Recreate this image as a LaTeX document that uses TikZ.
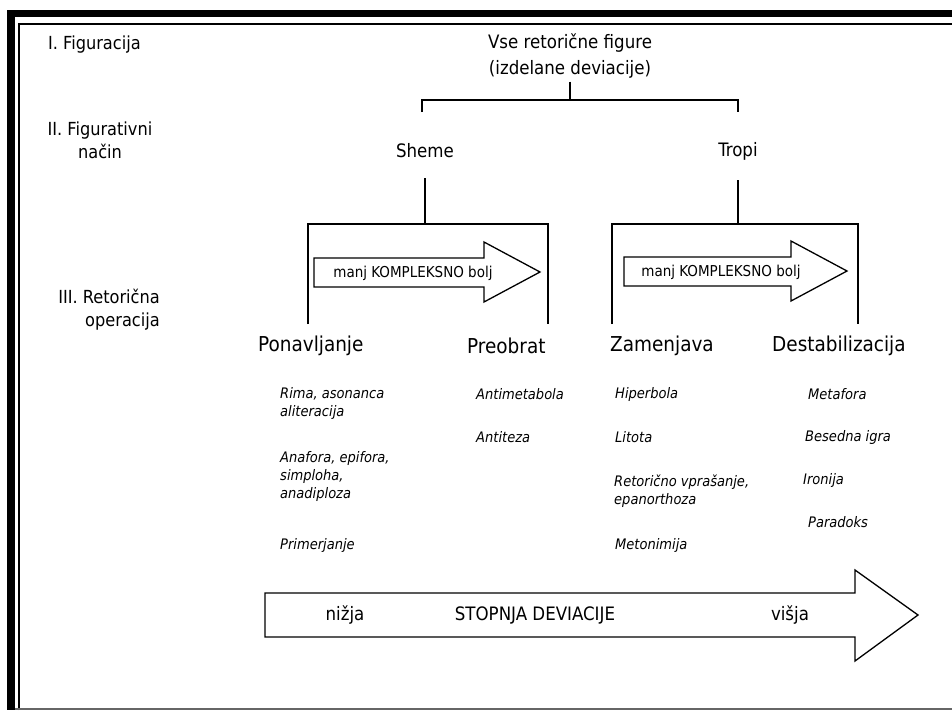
\documentclass[tikz,border=0pt]{standalone}
\usepackage{fontspec}
\setmainfont{DejaVu Sans Condensed}
\usetikzlibrary{calc}
\tikzset{
  lvl/.style={font=\fontsize{18}{23}\selectfont, inner sep=0pt},
  main/.style={font=\fontsize{18.5}{26}\selectfont, inner sep=0pt},
  oper/.style={font=\fontsize{20.5}{24}\selectfont, inner sep=0pt, anchor=west},
  item/.style={font=\fontsize{14.5}{18}\selectfont\itshape, inner sep=0pt, anchor=west, align=left},
  arr/.style={font=\fontsize{15}{18}\selectfont, inner sep=0pt},
  tree/.style={line width=1.4pt},
  bigarrow/.style={line width=1.3pt, line join=miter}
}
\begin{document}
\begin{tikzpicture}[x=1pt,y=-1pt]
			\useasboundingbox (0,0) rectangle (952,710);
			
			%%%%% FRAME %%%%%
			\fill[black] (7,10) rectangle (952,17);
			\fill[black] (7,10) rectangle (15,710);
			\draw[line width=1.2pt] (19,710) -- (19,24) -- (952,24);
			\draw[line width=1.5pt, color=black!60] (15,709) -- (952,709);
			
			%%%%% LEVELS %%%%%
			\node[lvl, anchor=west] (figuracija) at (48,45) {I. Figuracija};
			\node[lvl, align=center] (nacin) at (100,140) {II. Figurativni\\način};
			\node[lvl, align=right, anchor=east] (operacija) at (160,310) {III. Retorična\\operacija};
			
			%%%%% TREE %%%%%
			\node[main, align=center] (vse) at (570,56) {Vse retorične figure\\(izdelane deviacije)};
			\node[main] (sheme) at (425,151) {Sheme};
			\node[main] (tropi) at (738,151) {Tropi};
			
			\coordinate (top) at (570,100);
			\draw[tree] ($(vse.south)+(0,3)$) -- (top);
			\draw[tree] (422,112) -- (422,100) -- (738,100) -- (738,112);
			
			\coordinate (shtop) at (425,224);
			\draw[tree] ($(sheme.south)+(0,20)$) -- (shtop);
			\draw[tree] (308,324) -- (308,224) -- (548,224) -- (548,324);
			
			\coordinate (trtop) at (738,224);
			\draw[tree] ($(tropi.south)+(0,20)$) -- (trtop);
			\draw[tree] (612,324) -- (612,224) -- (858,224) -- (858,324);
			
			%%%%% SMALL ARROWS %%%%%
			\draw[bigarrow] (314,258) -- (484,258) -- (484,242) -- (540,272) -- (484,302) -- (484,287) -- (314,287) -- cycle;
			\node[arr] (komp1) at (413,273) {manj KOMPLEKSNO bolj};
			\draw[bigarrow] (624,257) -- (791,257) -- (791,241) -- (847,271) -- (791,301) -- (791,286) -- (624,286) -- cycle;
			\node[arr] (komp2) at (721,272) {manj KOMPLEKSNO bolj};
			
			%%%%% OPERATIONS %%%%%
			\node[oper] (ponavljanje) at (258,346) {Ponavljanje};
			\node[oper] (preobrat) at (467,346) {Preobrat};
			\node[oper] (zamenjava) at (610,346) {Zamenjava};
			\node[oper] (destab) at (772,346) {Destabilizacija};
			
			%%%%% FIGURES %%%%%
			\node[item] (rima) at (280,403) {Rima, asonanca\\aliteracija};
			\node[item] (anafora) at (280,476) {Anafora, epifora,\\simploha,\\anadiploza};
			\node[item] (primerjanje) at (280,545) {Primerjanje};
			
			\node[item] (antimetabola) at (476,394) {Antimetabola};
			\node[item] (antiteza) at (476,437) {Antiteza};
			
			\node[item] (hiperbola) at (615,394) {Hiperbola};
			\node[item] (litota) at (615,437) {Litota};
			\node[item] (vprasanje) at (614,491) {Retorično vprašanje,\\epanorthoza};
			\node[item] (metonimija) at (615,545) {Metonimija};
			
			\node[item] (metafora) at (808,394) {Metafora};
			\node[item] (besedna) at (805,437) {Besedna igra};
			\node[item] (ironija) at (803,480) {Ironija};
			\node[item] (paradoks) at (808,522) {Paradoks};
			
			%%%%% DEVIATION ARROW %%%%%
			\draw[bigarrow] (265,593) -- (855,593) -- (855,570) -- (918,615) -- (855,661) -- (855,637) -- (265,637) -- cycle;
			\node[main] (nizja) at (345,615) {nižja};
			\node[main] (stopnja) at (535,615) {STOPNJA DEVIACIJE};
			\node[main] (visja) at (790,615) {višja};
			
\end{tikzpicture}
\end{document}
